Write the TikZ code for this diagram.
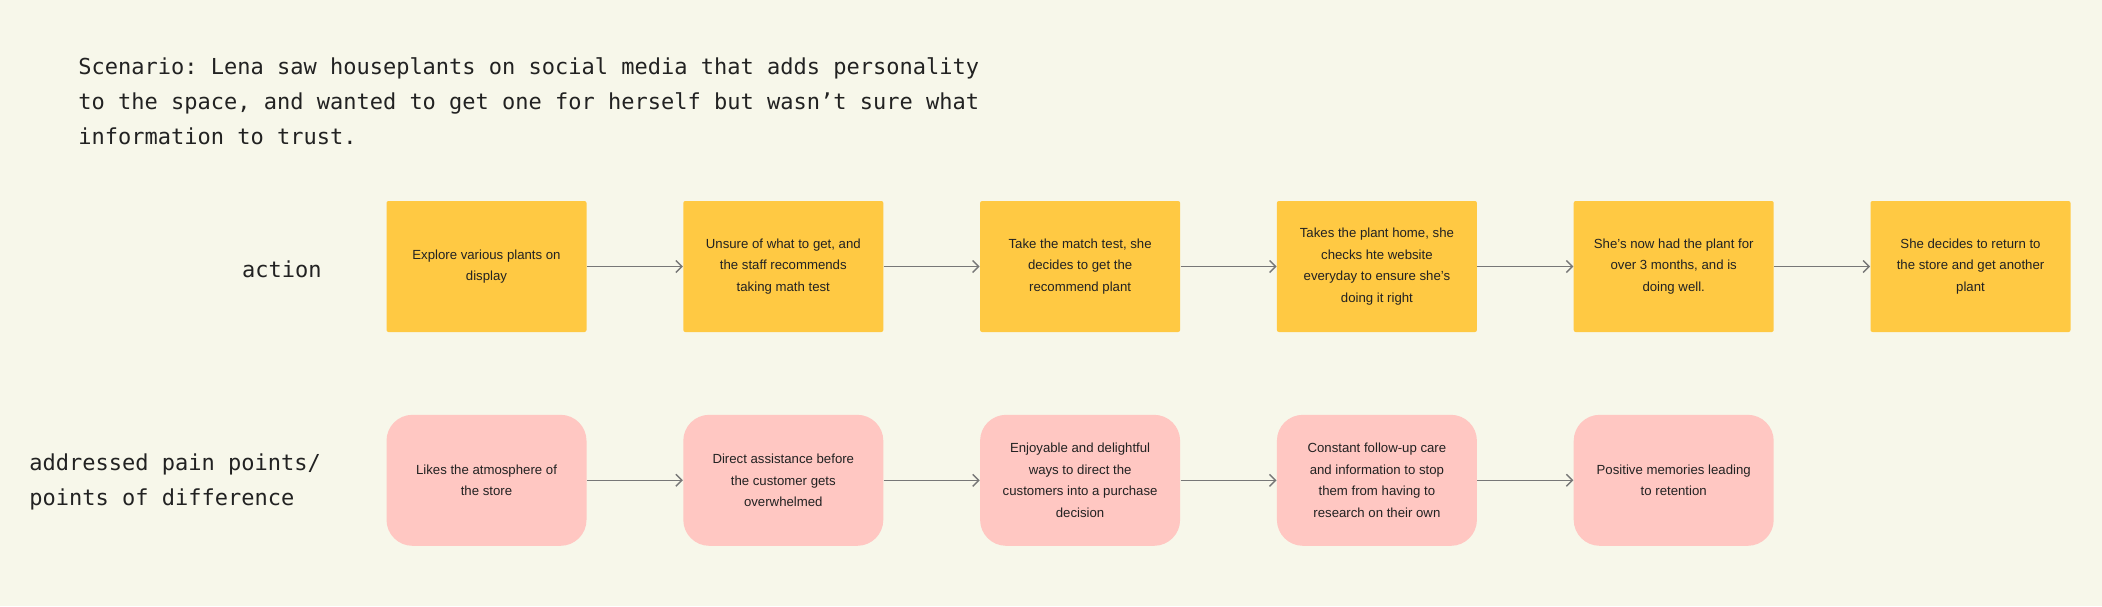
\documentclass[tikz,border=0pt]{standalone}
\usepackage{fontspec}
\setsansfont{Liberation Sans}
\setmonofont{DejaVu Sans Mono}
\usepackage{xcolor}
\usepackage{tikz}
\usetikzlibrary{arrows.meta,positioning}
\definecolor{bgcream}{HTML}{F7F7EA}
\definecolor{stickyyel}{HTML}{FFC943}
\definecolor{stickypink}{HTML}{FFC7C2}
\definecolor{inkgray}{HTML}{222222}
\definecolor{arrgray}{HTML}{777777}
\begin{document}
\begin{tikzpicture}[
  x=0.5pt,y=-0.5pt,node distance=48pt,
  act/.style={rectangle,fill=stickyyel,rounded corners=1pt,minimum width=100pt,minimum height=65.5pt,align=center,inner sep=2pt,text=inkgray,font=\sffamily\fontsize{6.6}{10.7}\selectfont},
  pain/.style={act,fill=stickypink,rounded corners=13pt},
  lbl/.style={font=\ttfamily\fontsize{11}{17.5}\selectfont,text=inkgray,inner sep=0pt,align=left},
  ar/.style={-{Straight Barb[length=3pt,width=6pt]},arrgray,line width=0.7pt}
]
\fill[bgcream] (0,0) rectangle (2102,606);
\useasboundingbox (0,0) rectangle (2102,606);
\node[lbl,anchor=north west] (scen) at (78,57) {Scenario: Lena saw houseplants on social media that adds personality\\to the space, and wanted to get one for herself but wasn’t sure what\\information to trust.};
\node[lbl,anchor=east] (actlbl) at (322,269) {action};
\node[lbl,anchor=west] (painlbl) at (29,482) {addressed pain points/\\points of difference};
% action row
\node[act] (a1) at (486.5,266.5) {Explore various plants on\\display};
\node[act,right=of a1] (a2) {Unsure of what to get, and\\the staff recommends\\taking math test};
\node[act,right=of a2] (a3) {Take the match test, she\\decides to get the\\recommend plant};
\node[act,right=of a3] (a4) {Takes the plant home, she\\checks hte website\\everyday to ensure she’s\\doing it right};
\node[act,right=of a4] (a5) {She’s now had the plant for\\over 3 months, and is\\doing well.};
\node[act,right=of a5] (a6) {She decides to return to\\the store and get another\\plant};
% pain point row
\node[pain,below=41pt of a1] (p1) {Likes the atmosphere of\\the store};
\node[pain,right=of p1] (p2) {Direct assistance before\\the customer gets\\overwhelmed};
\node[pain,right=of p2] (p3) {Enjoyable and delightful\\ways to direct the\\customers into a purchase\\decision};
\node[pain,right=of p3] (p4) {Constant follow-up care\\and information to stop\\them from having to\\research on their own};
\node[pain,right=of p4] (p5) {Positive memories leading\\to retention};
\draw[ar](a1)--(a2); \draw[ar](a2)--(a3); \draw[ar](a3)--(a4);
\draw[ar](a4)--(a5); \draw[ar](a5)--(a6);
\draw[ar](p1)--(p2); \draw[ar](p2)--(p3); \draw[ar](p3)--(p4); \draw[ar](p4)--(p5);
\end{tikzpicture}
\end{document}
